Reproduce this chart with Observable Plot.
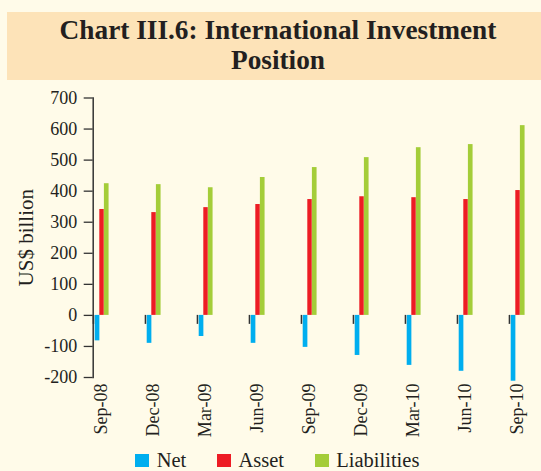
<!DOCTYPE html>
<html>
<head>
<meta charset="utf-8">
<script src="https://cdn.jsdelivr.net/npm/d3@7"></script>
<script src="https://cdn.jsdelivr.net/npm/@observablehq/plot@0.6"></script>
<style>
  body { margin: 0; background: #ffffff; }
  #wrap { position: relative; width: 541px; height: 471px; background: #fffbe9; overflow: hidden;
          font-family: "Liberation Serif", "Times New Roman", serif; color: #231f20; }
  #band { position: absolute; left: 7px; top: 12px; width: 534px; height: 67.5px; background: #fde3b8; }
  #title { position: absolute; left: 0; top: 15px; width: 556px; text-align: center; font-weight: bold;
           font-size: 27.3px; line-height: 30px; }
  #chart { position: absolute; left: 0; top: 80px; }
  #legend { position: absolute; left: 135px; top: 448.4px; display: flex; align-items: flex-start;
            font-size: 20.5px; line-height: 24px; }
  .item { display: flex; align-items: flex-start; margin-right: 30.5px; }
  .sw { width: 14px; height: 13px; margin-top: 5.6px; margin-right: 7.7px; }
</style>
</head>
<body>
<div id="wrap">
  <div id="band"></div>
  <div id="title">Chart III.6: International Investment<br>Position</div>
  <div id="chart"></div>
  <div id="legend"></div>
</div>
<script>
const dates = ["Sep-08","Dec-08","Mar-09","Jun-09","Sep-09","Dec-09","Mar-10","Jun-10","Sep-10"];
const net = [-82, -90, -68, -90, -103, -129, -161, -180, -212];
const asset = [341, 331, 347, 357, 373, 382, 379, 373, 402];
const liabilities = [424, 421, 411, 444, 476, 508, 540, 550, 611];
const yTicks = [-200, -100, 0, 100, 200, 300, 400, 500, 600, 700];
const seriesNames = ["Net", "Asset", "Liabilities"];
const seriesColors = ["#00aeef", "#ed1c24", "#a4cd39"];
const yLabel = "US$ billion";

const seriesValues = [net, asset, liabilities];
const bw = 52.13;           // band width in px
const x0 = 92.7;            // left edge of first band
const offsets = [[1.7, 6.5], [6.3, 10.9], [10.9, 15.7]];

const barMarks = seriesNames.map((s, j) =>
  Plot.barY(dates, {
    x: d => d,
    y: (d, i) => seriesValues[j][i],
    fill: seriesColors[j],
    insetLeft: offsets[j][0],
    insetRight: bw - offsets[j][1]
  })
);

const chart = Plot.plot({
  width: 541,
  height: 360,
  marginTop: 17.5,
  marginBottom: 63,
  marginLeft: x0,
  marginRight: 0,
  style: { background: "transparent", fontFamily: "Liberation Serif, Times New Roman, serif", color: "#231f20" },
  x: { type: "band", domain: dates, range: [x0, x0 + dates.length * bw], padding: 0, axis: null },
  y: { domain: [-200, 700], axis: null },
  marks: [
    Plot.axisY(yTicks, { tickSize: 9, tickPadding: 7, fontSize: 18, stroke: "#333", strokeWidth: 1.3, fill: "#231f20",
                         label: null, tickFormat: d => String(d) }),
    Plot.frame({ anchor: "left", stroke: "#333", strokeWidth: 1.5 }),
    ...barMarks,
    Plot.ruleY([0], { x1: dates[0], x2: dates[dates.length - 1], insetRight: bw - 17, stroke: "#6d6e71", strokeWidth: 2 }),
    Plot.ruleX(dates, { x: d => d, y1: 0, y2: 0, insetBottom: -9, dx: -bw / 2, stroke: "#333", strokeWidth: 1.5 }),
    Plot.text(dates, { x: d => d, frameAnchor: "bottom", rotate: -90, textAnchor: "end", lineAnchor: "middle",
                       dx: -bw / 2 + 7.4, dy: 6, fontSize: 18, fill: "#231f20" }),
    Plot.text([yLabel], { frameAnchor: "left", rotate: -90, textAnchor: "middle", lineAnchor: "middle",
                          dx: 26 - x0, fontSize: 21, fill: "#231f20" })
  ]
});
document.getElementById("chart").appendChild(chart);

const legend = document.getElementById("legend");
seriesNames.forEach((s, j) => {
  const item = document.createElement("div");
  item.className = "item";
  const sw = document.createElement("div");
  sw.className = "sw";
  sw.style.background = seriesColors[j];
  const lab = document.createElement("span");
  lab.textContent = s;
  item.appendChild(sw);
  item.appendChild(lab);
  legend.appendChild(item);
});
</script>
</body>
</html>
